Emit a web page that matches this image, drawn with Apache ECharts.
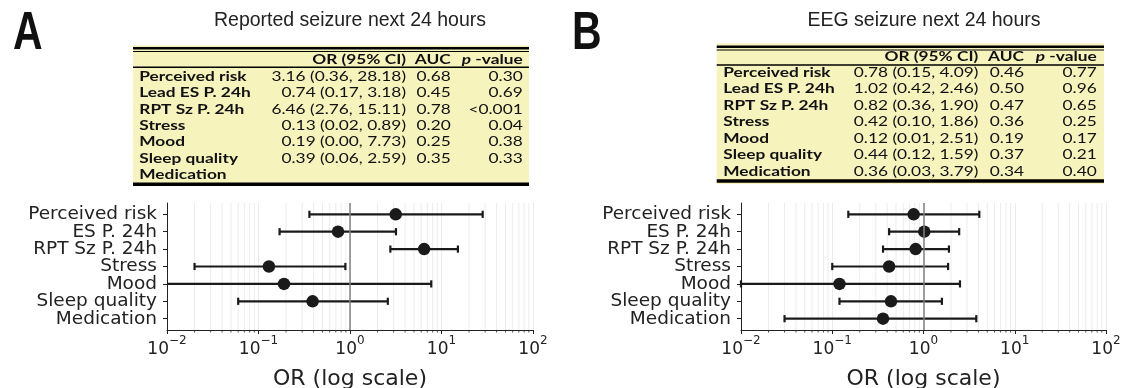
<!DOCTYPE html>
<html><head><meta charset="utf-8">
<script src="https://cdn.jsdelivr.net/npm/echarts@6/dist/echarts.min.js"></script>
<style>html,body{margin:0;padding:0;background:#fff}#c{width:1122px;height:388px}</style>
</head><body><div id="c"></div>
<script>
// ---------------- data ----------------
const plotLabels  = ['Perceived risk','ES P. 24h','RPT Sz P. 24h','Stress','Mood','Sleep quality','Medication'];
const tableLabels = ['Perceived risk','Lead ES P. 24h','RPT Sz P. 24h','Stress','Mood','Sleep quality','Medication'];
const titleA = 'Reported seizure next 24 hours';
const titleB = 'EEG seizure next 24 hours';
// panel A
const orA  = [3.16, 0.74, 6.46, 0.13, 0.19, 0.39, null];
const loA  = [0.36, 0.17, 2.76, 0.02, 0.00, 0.06, null];
const hiA  = [28.18, 3.18, 15.11, 0.89, 7.73, 2.59, null];
const aucA = [0.68, 0.45, 0.78, 0.20, 0.25, 0.35, null];
const pA   = ['0.30', '0.69', '<0.001', '0.04', '0.38', '0.33', ''];
// panel B
const orB  = [0.78, 1.02, 0.82, 0.42, 0.12, 0.44, 0.36];
const loB  = [0.15, 0.42, 0.36, 0.10, 0.01, 0.12, 0.03];
const hiB  = [4.09, 2.46, 1.90, 1.86, 2.51, 1.59, 3.79];
const aucB = [0.46, 0.50, 0.47, 0.36, 0.19, 0.37, 0.34];
const pB   = ['0.77', '0.96', '0.65', '0.25', '0.17', '0.21', '0.40'];
// axis ticks
const xMajorTicks = [0.01, 0.1, 1, 10, 100];
const xMinorTicks = [0.02,0.03,0.04,0.05,0.06,0.07,0.08,0.09,
                     0.2,0.3,0.4,0.5,0.6,0.7,0.8,0.9,
                     2,3,4,5,6,7,8,9,
                     20,30,40,50,60,70,80,90];
const refLine = 1;

// ---------------- layout / style ----------------
const X_MIN = 0.01, X_MAX = 100, Y_MIN = -0.65, Y_MAX = 6.65;
const DARK = '#222';
const FONT = 'DejaVu Sans';
const yIdx = plotLabels.map((_, i) => i);
const yEven = yIdx.filter(i => i % 2 === 0);
const yOdd  = yIdx.filter(i => i % 2 === 1);
function expText(v){ const e = Math.round(Math.log10(v)); return String(e).replace('-', '−'); }

const grids = [
  {left: 167, top: 203, width: 366, height: 127, outerBoundsMode:'none', containLabel:false},
  {left: 741, top: 203, width: 365, height: 127, outerBoundsMode:'none', containLabel:false}
];

function xAxisCfg(g){ return {
  type:'log', logBase:10, min:X_MIN, max:X_MAX, gridIndex:g,
  axisLine:{show:true, onZero:false, lineStyle:{color:DARK, width:1}},
  axisTick:{show:true, length:4, lineStyle:{color:DARK, width:1}},
  axisLabel:{margin:5, showMinLabel:true, showMaxLabel:true, formatter: v => '{b|10}{s|' + expText(v) + '}',
    rich:{ b:{fontSize:17, fontFamily:FONT, color:DARK, lineHeight:23, verticalAlign:'bottom'},
           s:{fontSize:12, fontFamily:FONT, color:DARK, verticalAlign:'top'} }},
  splitLine:{show:true, lineStyle:{color:'#ebebeb', width:1}},
  name:'OR (log scale)', nameLocation:'middle', nameGap:38,
  nameTextStyle:{fontSize:22, fontFamily:FONT, color:DARK}
};}
function yAxisCfg(g, vals, showLine){ return {
  type:'value', gridIndex:g, min:Y_MIN, max:Y_MAX, inverse:true, position:'left', offset:0,
  axisLine:{show:showLine, onZero:false, lineStyle:{color:DARK, width:1}},
  axisTick:{show:true, length:4, customValues:vals, lineStyle:{color:DARK, width:1}},
  axisLabel:{margin:10, customValues:vals, showMinLabel:true, showMaxLabel:true,
    formatter: v => plotLabels[Math.round(v)] || '',
    fontSize:18.5, fontFamily:FONT, color:DARK},
  splitLine:{show:false}
};}

function panelSeries(g, yi, or, lo, hi){
  const bars = [], pts = [];
  or.forEach((v, i) => { if (v != null){ bars.push([i, lo[i], hi[i]]); pts.push([v, i]); } });
  return [
    { type:'custom', xAxisIndex:g, yAxisIndex:yi, silent:true, clip:false, z:1,
      data: xMinorTicks.map(v => [v, 0]), encode:{x:0, y:1},
      renderItem:(params, api) => {
        const v = api.value(0);
        const t = api.coord([v, Y_MIN]), b = api.coord([v, Y_MAX]);
        return {type:'group', children:[
          {type:'line', shape:{x1:t[0], y1:t[1], x2:b[0], y2:b[1]}, style:{stroke:'#ececec', lineWidth:1}},
          {type:'line', shape:{x1:b[0], y1:b[1], x2:b[0], y2:b[1]+2.5}, style:{stroke:DARK, lineWidth:0.8}}
        ]};
      },
      markLine:{silent:true, symbol:'none', label:{show:false}, animation:false,
        lineStyle:{color:'#808080', width:1.5, type:'solid'}, data:[{xAxis:refLine}]}
    },
    { type:'custom', xAxisIndex:g, yAxisIndex:yi, silent:true, clip:false, z:3,
      data: bars, encode:{x:2, y:0},
      renderItem:(params, api) => {
        const i = api.value(0), l = api.value(1), h = api.value(2);
        const p1 = api.coord([Math.max(l, X_MIN), i]), p2 = api.coord([h, i]);
        const cap = 3.6, st = {stroke:'#1a1a1a', lineWidth:2.2};
        const ch = [{type:'line', shape:{x1:p1[0], y1:p1[1], x2:p2[0], y2:p2[1]}, style:st},
                    {type:'line', shape:{x1:p2[0], y1:p2[1]-cap, x2:p2[0], y2:p2[1]+cap}, style:st}];
        if (l >= X_MIN) ch.push({type:'line', shape:{x1:p1[0], y1:p1[1]-cap, x2:p1[0], y2:p1[1]+cap}, style:st});
        return {type:'group', children:ch};
      }
    },
    { type:'scatter', xAxisIndex:g, yAxisIndex:yi, silent:true, z:4,
      data: pts, symbol:'circle', symbolSize:12.5, itemStyle:{color:'#1a1a1a', opacity:1} }
  ];
}

// ---------------- tables ----------------
const SX = 1.33;
const TFONT = 'Lato';
const TSIZE = 13;
function t(x, y, text, align, bold){
  return {type:'text', x, y, scaleX:SX, silent:true,
    style:{x:0, y:0, text, align, textAlign:align, verticalAlign:'middle', textVerticalAlign:'middle',
      fontSize:TSIZE, fontFamily:TFONT, fontWeight: bold ? 'bold' : 'normal', fill:'#111'}};
}
function table(L, or, lo, hi, auc, p){
  const els = [];
  const w = L.x1 - L.x0;
  els.push({type:'rect', silent:true, shape:{x:L.x0, y:L.yTop, width:w, height:L.yBot - L.yTop}, style:{fill:'#f7f3bd'}});
  const hl = (y, th) => els.push({type:'rect', silent:true, shape:{x:L.x0, y:y - th/2, width:w, height:th}, style:{fill:'#000'}});
  hl(L.thick, 2.4); hl(L.thin, 1.1); hl(L.head, 1.5); hl(L.bottom, 3.4);
  els.push(t(L.orX, L.headY, 'OR (95% CI)', 'right', true));
  els.push(t(L.aucX, L.headY, 'AUC', 'right', true));
  els.push({type:'text', x:L.pX, y:L.headY, scaleX:SX, silent:true,
    style:{x:0, y:0, text:'{i|p}{n| -value}', align:'right', textAlign:'right', verticalAlign:'middle', textVerticalAlign:'middle',
      fill:'#111', rich:{ i:{fontStyle:'italic', fontWeight:'bold', fontSize:TSIZE, fontFamily:TFONT, fill:'#111'},
                          n:{fontWeight:'bold', fontSize:TSIZE, fontFamily:TFONT, fill:'#111'} }}});
  tableLabels.forEach((lab, i) => {
    const y = L.row0 + i * L.step;
    els.push(t(L.labelX, y, lab, 'left', true));
    if (or[i] != null){
      els.push(t(L.orX, y, or[i].toFixed(2) + ' (' + lo[i].toFixed(2) + ', ' + hi[i].toFixed(2) + ')', 'right', false));
      els.push(t(L.aucX, y, auc[i].toFixed(2), 'right', false));
      els.push(t(L.pX, y, p[i], 'right', false));
    }
  });
  return els;
}
const layoutA = {x0:133, x1:529, yTop:45.3, yBot:186, thick:48.3, thin:51.5, head:67.3, bottom:184.3,
  headY:60, row0:76.5, step:16.42, labelX:139.3, orX:406, aucX:450.7, pX:522.7};
const layoutB = {x0:716.7, x1:1104, yTop:43.3, yBot:184, thick:46.7, thin:50, head:65, bottom:181,
  headY:57, row0:72.8, step:16.48, labelX:723.3, orX:978.3, aucX:1024, pX:1096.7};

const graphics = [].concat(
  table(layoutA, orA, loA, hiA, aucA, pA),
  table(layoutB, orB, loB, hiB, aucB, pB),
  [
    {type:'text', x:350, y:20.5, silent:true, style:{text:titleA, align:'center', textAlign:'center', verticalAlign:'middle', textVerticalAlign:'middle', fontSize:19.5, fontFamily:'Liberation Sans', fill:'#222'}},
    {type:'text', x:924, y:20.5, silent:true, style:{text:titleB, align:'center', textAlign:'center', verticalAlign:'middle', textVerticalAlign:'middle', fontSize:19.5, fontFamily:'Liberation Sans', fill:'#222'}},
    {type:'text', x:13, y:8, scaleY:1.3, silent:true, style:{text:'A', verticalAlign:'top', textVerticalAlign:'top', fontSize:41, fontWeight:'bold', fontFamily:'Liberation Sans', fill:'#111'}},
    {type:'text', x:572, y:8, scaleY:1.3, silent:true, style:{text:'B', verticalAlign:'top', textVerticalAlign:'top', fontSize:41, fontWeight:'bold', fontFamily:'Liberation Sans', fill:'#111'}}
  ]
);

const chart = echarts.init(document.getElementById('c'), null, {renderer:'canvas'});
chart.setOption({
  animation:false,
  backgroundColor:'#fff',
  grid: grids,
  xAxis: [xAxisCfg(0), xAxisCfg(1)],
  yAxis: [yAxisCfg(0, yEven, true), yAxisCfg(0, yOdd, false), yAxisCfg(1, yEven, true), yAxisCfg(1, yOdd, false)],
  series: [].concat(panelSeries(0, 0, orA, loA, hiA), panelSeries(1, 2, orB, loB, hiB)),
  graphic: graphics
});
</script></body></html>
